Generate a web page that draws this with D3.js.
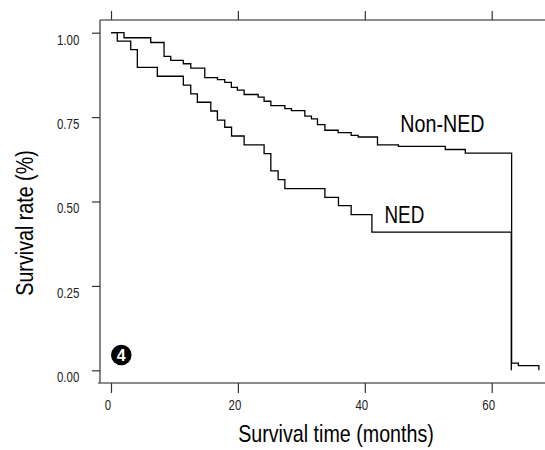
<!DOCTYPE html>
<html lang="en">
<head>
    <meta charset="UTF-8">
    <title>Survival curves</title>
    <script src="https://d3js.org/d3.v7.min.js"></script>
    <style>
        body { margin: 0; background: #fff; }
        text { font-family: "Liberation Sans", Arial, sans-serif; }
    </style>
</head>
<body>
    <svg width="545" height="450"></svg>

    <script>
        const width = 545, height = 450;

        // Kaplan-Meier steps (months, survival rate)
        const nedTime = [0, 0.99, 3.11, 4.15, 7.30, 11.40, 12.57, 13.61, 15.73, 16.77, 17.93, 19.0, 20.98,
                         24.13, 25.19, 26.34, 27.40, 33.71, 35.85, 37.85, 41.12, 63.09];
        const nedRate = [1, 0.975, 0.950, 0.897, 0.871, 0.845, 0.819, 0.794, 0.768, 0.741, 0.720, 0.694, 0.668,
                         0.642, 0.591, 0.565, 0.538, 0.512, 0.488, 0.461, 0.409, 0];

        const nonNedTime = [0, 2.05, 6.26, 8.36, 9.42, 11.40, 12.57, 14.78, 16.77, 17.93, 18.97, 19.92, 20.98,
                            23.19, 24.13, 25.19, 27.40, 28.44, 30.55, 31.59, 32.54, 33.71, 35.80, 37.85, 38.96,
                            42.0, 45.3, 52.68, 55.84, 63.14, 64.20, 67.43];
        const nonNedRate = [1, 0.985, 0.971, 0.930, 0.918, 0.908, 0.895, 0.867, 0.861, 0.853, 0.838, 0.830, 0.817,
                            0.809, 0.797, 0.784, 0.775, 0.769, 0.753, 0.745, 0.728, 0.711, 0.704, 0.696, 0.691,
                            0.668, 0.663, 0.654, 0.643, 0.021, 0.014, 0];

        const xTicks = [0, 20, 40, 60];
        const yTicks = [0, 0.25, 0.5, 0.75, 1];
        const yTickLabels = ["0.00", "0.25", "0.50", "0.75", "1.00"];

        const svg = d3.select("svg");

        const xScale = d3.scaleLinear().domain([0, 60]).range([111, 491.7]);
        const yScale = d3.scaleLinear().domain([0, 1]).range([370.3, 32.7]);

        const frame = { left: 100, right: 545, top: 20, bottom: 383 };
        const axisColor = "#666";
        const squeeze = 0.82;   // no narrow font installed, so squeeze text horizontally

        function narrowText(parent, x, y, size, str, anchor) {
            return parent.append("text")
                         .attr("transform", `translate(${x},${y}) scale(${squeeze},1)`)
                         .attr("text-anchor", anchor || "start")
                         .style("font-size", size + "px")
                         .text(str);
        }

        // Frame lines (left, top, bottom)
        svg.append("line")
           .attr("x1", frame.left).attr("x2", frame.left)
           .attr("y1", frame.top).attr("y2", frame.bottom)
           .attr("stroke", axisColor).attr("stroke-width", 1.6);
        svg.append("line")
           .attr("x1", frame.left).attr("x2", frame.right)
           .attr("y1", frame.top).attr("y2", frame.top)
           .attr("stroke", axisColor).attr("stroke-width", 1.6);
        svg.append("line")
           .attr("x1", frame.left - 2).attr("x2", frame.right)
           .attr("y1", frame.bottom).attr("y2", frame.bottom)
           .attr("stroke", axisColor).attr("stroke-width", 1.6);

        // Bottom axis
        const xAxis = svg.append("g")
           .attr("transform", `translate(0,${frame.bottom})`)
           .call(d3.axisBottom(xScale).tickValues(xTicks).tickSize(10).tickFormat(""));
        xAxis.select(".domain").remove();
        xAxis.selectAll(".tick").each(function(d) {
            narrowText(d3.select(this), -3.5, 27, 14, d, "middle").attr("fill", "#222");
        });

        // Top axis (ticks only)
        const topAxis = svg.append("g")
           .attr("transform", `translate(0,${frame.top})`)
           .call(d3.axisTop(xScale).tickValues(xTicks).tickSize(9).tickFormat(""));
        topAxis.select(".domain").remove();

        // Left axis
        const yAxis = svg.append("g")
           .attr("transform", `translate(${frame.left},0)`)
           .call(d3.axisLeft(yScale).tickValues(yTicks).tickSize(8).tickFormat(""));
        yAxis.select(".domain").remove();
        yAxis.selectAll(".tick").each(function(d, i) {
            narrowText(d3.select(this), -20.7, 11.3, 14, yTickLabels[i], "end").attr("fill", "#222");
        });

        svg.selectAll(".tick line").attr("stroke", "#333").attr("stroke-width", 1.2);

        // Step curves
        const step = d3.line()
                       .x(d => xScale(d[0]))
                       .y(d => yScale(d[1]))
                       .curve(d3.curveStepAfter);

        svg.append("path")
           .datum(nedTime.map((t, i) => [t, nedRate[i]]))
           .attr("fill", "none")
           .attr("stroke", "#000")
           .attr("stroke-width", 1.3)
           .attr("d", step);

        svg.append("path")
           .datum(nonNedTime.map((t, i) => [t, nonNedRate[i]]))
           .attr("fill", "none")
           .attr("stroke", "#000")
           .attr("stroke-width", 1.3)
           .attr("d", step);

        // Curve labels
        narrowText(svg, xScale(45.6), yScale(0.705), 24, "Non-NED");
        narrowText(svg, xScale(43.1), yScale(0.435), 23, "NED");

        // Axis titles
        narrowText(svg, 336, 442, 24, "Survival time (months)", "middle");

        svg.append("text")
           .attr("transform", `translate(33,223) rotate(-90) scale(${squeeze},1)`)
           .attr("text-anchor", "middle")
           .style("font-size", "24px")
           .text("Survival rate (%)");

        // Panel number badge
        svg.append("circle")
           .attr("cx", 121.3)
           .attr("cy", 355)
           .attr("r", 10.3)
           .attr("fill", "#000");
        svg.append("text")
           .attr("x", 121.3)
           .attr("y", 361)
           .attr("text-anchor", "middle")
           .attr("fill", "#fff")
           .style("font-size", "16px")
           .style("font-weight", "bold")
           .text("4");
    </script>
</body>
</html>
